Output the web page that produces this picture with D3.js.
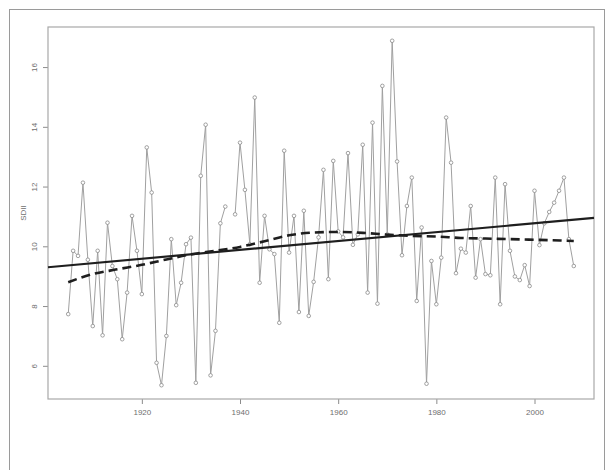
<!DOCTYPE html>
<html>
<head>
    <title>SDII time series</title>
    <style>
        body {
            margin: 0;
            background-color: white;
        }
        svg {
            display: block;
        }
    </style>
    <script src="https://d3js.org/d3.v7.min.js"></script>
</head>
<body>
    <script>
        // Data (1938 missing)
        var years = d3.range(1905, 2009);
        var values = [
            7.73, 9.85, 9.68, 12.13, 9.55, 7.33, 9.85, 7.02, 10.79, 9.34,
            8.90, 6.89, 8.45, 11.02, 9.85, 8.40, 13.31, 11.80, 6.10, 5.35,
            7.00, 10.24, 8.03, 8.78, 10.07, 10.29, 5.43, 12.36, 14.07, 5.68,
            7.17, 10.77, 11.33, null, 11.07, 13.47, 11.89, 10.07, 14.98, 8.78,
            11.02, 9.90, 9.74, 7.44, 13.20, 9.79, 11.02, 7.80, 11.19, 7.67,
            8.81, 10.30, 12.56, 8.90, 12.86, 10.50, 10.30, 13.12, 10.05, 10.40,
            13.40, 8.45, 14.14, 8.08, 15.37, 10.40, 16.88, 12.84, 9.70, 11.35,
            12.30, 8.17, 10.63, 5.40, 9.51, 8.06, 9.62, 14.31, 12.80, 9.10,
            9.92, 9.79, 11.35, 8.95, 10.24, 9.07, 9.03, 12.30, 8.06, 12.08,
            9.85, 8.99, 8.87, 9.37, 8.67, 11.86, 10.04, 10.77, 11.15, 11.46,
            11.86, 12.30, 10.24, 9.34
        ];

        // smoothed curve (dashed)
        var smoothYears = [1905, 1910, 1915, 1920, 1925, 1930, 1935, 1940, 1945, 1950, 1955,
                           1960, 1965, 1970, 1975, 1980, 1985, 1990, 1995, 2000, 2008];
        var smoothValues = [8.80, 9.07, 9.23, 9.38, 9.56, 9.73, 9.85, 9.98, 10.17, 10.37, 10.46,
                            10.48, 10.45, 10.39, 10.35, 10.33, 10.28, 10.26, 10.24, 10.22, 10.18];

        // linear trend (solid), two fitted values
        var trendYears = [1905, 2008];
        var trendValues = [9.36, 10.89];

        var xTicks = [1920, 1940, 1960, 1980, 2000];
        var yTicks = [6, 8, 10, 12, 14, 16];
        var yLabel = "SDII";

        var data = years.map(function(y, i) { return {year: y, value: values[i]}; });

        var width = 606, height = 470;
        // plot region (note: "top" is reserved on window, so use a margin object)
        var box = {left: 48, right: 594, top: 27, bottom: 399};

        var svg = d3.select("body").append("svg")
            .attr("width", width)
            .attr("height", height);

        svg.append("rect")
            .attr("width", width)
            .attr("height", height)
            .attr("fill", "white");

        // outer frame
        svg.append("rect")
            .attr("x", 9.5)
            .attr("y", 9.5)
            .attr("width", 595)
            .attr("height", 470)
            .attr("fill", "none")
            .attr("stroke", "#9a9a9a")
            .attr("stroke-width", 1);

        // R style 4% padding on both axes
        var xExt = d3.extent(years);
        var xPad = (xExt[1] - xExt[0]) * 0.04;
        var yExt = d3.extent(values.filter(function(v) { return v !== null; }));
        var yPad = (yExt[1] - yExt[0]) * 0.04;

        var x = d3.scaleLinear()
            .domain([xExt[0] - xPad, xExt[1] + xPad])
            .range([box.left, box.right]);
        var y = d3.scaleLinear()
            .domain([yExt[0] - yPad, yExt[1] + yPad])
            .range([box.bottom, box.top]);

        // axes
        var xAxis = svg.append("g")
            .attr("transform", "translate(0," + box.bottom + ")")
            .call(d3.axisBottom(x).tickValues(xTicks).tickSize(5).tickPadding(5).tickFormat(d3.format("d")));
        var yAxis = svg.append("g")
            .attr("transform", "translate(" + box.left + ",0)")
            .call(d3.axisLeft(y).tickValues(yTicks).tickSize(5).tickFormat(d3.format("d")));

        [xAxis, yAxis].forEach(function(g) {
            g.select(".domain").remove();
            g.selectAll(".tick line").attr("stroke", "#8c8c8c");
            g.selectAll(".tick text")
                .attr("fill", "#6e6e6e")
                .style("font-family", "Liberation Sans, Arial, sans-serif")
                .style("font-size", "8px");
        });

        // rotated y tick labels like R
        yAxis.selectAll(".tick text")
            .attr("x", 0)
            .attr("y", 0)
            .attr("dy", null)
            .attr("text-anchor", "middle")
            .attr("transform", "translate(-11,0) rotate(-90)");

        svg.append("text")
            .attr("transform", "translate(26," + ((box.top + box.bottom) / 2) + ") rotate(-90)")
            .attr("text-anchor", "middle")
            .attr("fill", "#6e6e6e")
            .style("font-family", "Liberation Sans, Arial, sans-serif")
            .style("font-size", "8px")
            .text(yLabel);

        // plot box
        svg.append("rect")
            .attr("x", box.left)
            .attr("y", box.top)
            .attr("width", box.right - box.left)
            .attr("height", box.bottom - box.top)
            .attr("fill", "none")
            .attr("stroke", "#a8a8a8")
            .attr("stroke-width", 1.2);

        // series line
        var line = d3.line()
            .defined(function(d) { return d.value !== null; })
            .x(function(d) { return x(d.year); })
            .y(function(d) { return y(d.value); });

        svg.append("path")
            .datum(data)
            .attr("d", line)
            .attr("fill", "none")
            .attr("stroke", "#a0a0a0")
            .attr("stroke-width", 1);

        svg.selectAll("circle.pt")
            .data(data.filter(function(d) { return d.value !== null; }))
            .enter().append("circle")
            .attr("class", "pt")
            .attr("cx", function(d) { return x(d.year); })
            .attr("cy", function(d) { return y(d.value); })
            .attr("r", 1.8)
            .attr("fill", "white")
            .attr("stroke", "#8a8a8a")
            .attr("stroke-width", 0.8);

        // trend line extended across the plot (abline)
        var slope = (trendValues[1] - trendValues[0]) / (trendYears[1] - trendYears[0]);
        var x0 = x.domain()[0], x1 = x.domain()[1];
        var trendLine = [
            [x0, trendValues[0] + slope * (x0 - trendYears[0])],
            [x1, trendValues[0] + slope * (x1 - trendYears[0])]
        ];
        svg.append("path")
            .attr("d", d3.line()
                .x(function(d) { return x(d[0]); })
                .y(function(d) { return y(d[1]); })(trendLine))
            .attr("fill", "none")
            .attr("stroke", "#1e1e1e")
            .attr("stroke-width", 2.2);

        // dashed smooth
        var smooth = smoothYears.map(function(yr, i) { return [yr, smoothValues[i]]; });
        svg.append("path")
            .attr("d", d3.line()
                .curve(d3.curveMonotoneX)
                .x(function(d) { return x(d[0]); })
                .y(function(d) { return y(d[1]); })(smooth))
            .attr("fill", "none")
            .attr("stroke", "#1e1e1e")
            .attr("stroke-width", 2.6)
            .attr("stroke-dasharray", "9,5");
    </script>
</body>
</html>
